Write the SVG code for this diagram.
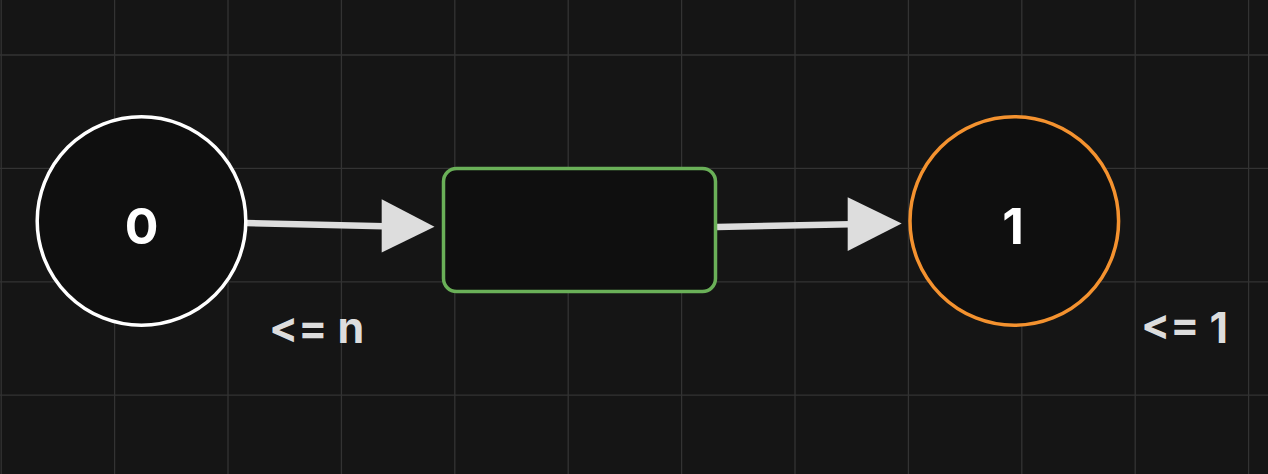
<svg xmlns="http://www.w3.org/2000/svg" width="1268" height="474" viewBox="0 0 1268 474">
  <style>
    .grid line { stroke: #333333; stroke-width: 1.3; }
    .node { fill: #0f0f0f; stroke-width: 3.5; }
    .nlabel { font-family: Inter, "Liberation Sans", sans-serif; font-weight: 700; font-size: 50px; fill: #ffffff; text-anchor: middle; }
    .elabel { font-family: Inter, "Liberation Sans", sans-serif; font-weight: 700; font-size: 43px; fill: #dddddd; }
    .edge line { stroke: #dddddd; stroke-width: 6.5; }
    .edge polygon { fill: #dddddd; }
  </style>
  <rect width="1268" height="474" fill="#151515"/>
  <g class="grid">
    <line x1="1.2" y1="0" x2="1.2" y2="474"/>
    <line x1="114.6" y1="0" x2="114.6" y2="474"/>
    <line x1="228" y1="0" x2="228" y2="474"/>
    <line x1="341.4" y1="0" x2="341.4" y2="474"/>
    <line x1="454.8" y1="0" x2="454.8" y2="474"/>
    <line x1="568.2" y1="0" x2="568.2" y2="474"/>
    <line x1="681.6" y1="0" x2="681.6" y2="474"/>
    <line x1="795" y1="0" x2="795" y2="474"/>
    <line x1="908.4" y1="0" x2="908.4" y2="474"/>
    <line x1="1021.8" y1="0" x2="1021.8" y2="474"/>
    <line x1="1135.2" y1="0" x2="1135.2" y2="474"/>
    <line x1="1248.6" y1="0" x2="1248.6" y2="474"/>
    <line x1="0" y1="55" x2="1268" y2="55"/>
    <line x1="0" y1="168.4" x2="1268" y2="168.4"/>
    <line x1="0" y1="281.8" x2="1268" y2="281.8"/>
    <line x1="0" y1="395.2" x2="1268" y2="395.2"/>
  </g>
  <g id="edges" class="edge">
    <g id="edge-0-mid">
      <line x1="246" y1="223" x2="384" y2="226.2"/>
      <polygon points="381.7,199.3 434.5,226.7 381.7,252.5"/>
    </g>
    <g id="edge-mid-1">
      <line x1="717" y1="227" x2="850" y2="224.3"/>
      <polygon points="847.7,197.3 901.7,223.5 847.7,251"/>
    </g>
  </g>
  <g id="node-0">
    <circle class="node" cx="141.5" cy="221" r="104.3" stroke="#ffffff"/>
    <text class="nlabel" x="141.5" y="243.5">0</text>
  </g>
  <g id="node-mid">
    <rect class="node" x="443.5" y="168.5" width="272" height="123" rx="13" stroke="#6ab058"/>
  </g>
  <g id="node-1">
    <circle class="node" cx="1014.3" cy="221" r="104.3" stroke="#f4922f"/>
    <text class="nlabel" x="1013" y="243.5">1</text>
  </g>
  <g id="labels">
    <text class="elabel" x="269" y="342.7">&lt;= n</text>
    <text class="elabel" x="1141" y="342.7">&lt;= 1</text>
  </g>
</svg>
